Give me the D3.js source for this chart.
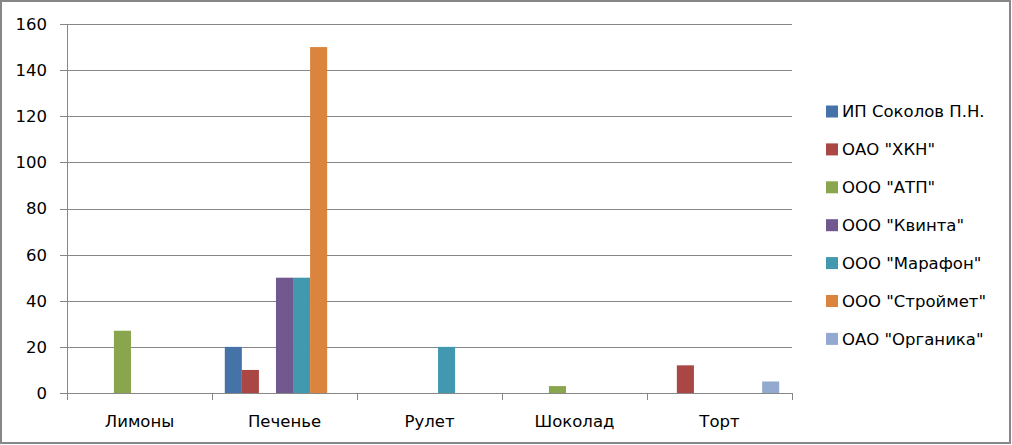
<!DOCTYPE html>
<html>
<head>
<meta charset="utf-8">
<script src="https://cdn.jsdelivr.net/npm/d3@7"></script>
<style>
  body { margin: 0; background: #fff; }
  svg { display: block; }
  text { font-family: "DejaVu Sans", sans-serif; font-size: 16.5px; fill: #000; }
</style>
</head>
<body>
<svg width="1012" height="445"></svg>
<script>
const categories = ["Лимоны", "Печенье", "Рулет", "Шоколад", "Торт"]
const seriesNames = ["ИП Соколов П.Н.", "ОАО \"ХКН\"", "ООО \"АТП\"", "ООО \"Квинта\"", "ООО \"Марафон\"", "ООО \"Строймет\"", "ОАО \"Органика\""]
// one row per series, one value per category (null = no bar)
const sokolov  = [null, 20, null, null, null]
const hkn      = [null, 10, null, null, 12]
const atp      = [27, null, null, 3, null]
const kvinta   = [null, 50, null, null, null]
const marafon  = [null, 50, 20, null, null]
const stroymet = [null, 150, null, null, null]
const organika = [null, null, null, null, 5]
const yTicks = [0, 20, 40, 60, 80, 100, 120, 140, 160]
const colors = ["#4572A7", "#AA4643", "#89A54E", "#71588F", "#4198AF", "#DB843D", "#93A9CF"]

const values = [sokolov, hkn, atp, kvinta, marafon, stroymet, organika]

const svg = d3.select("svg")
const plotLeft = 67, plotRight = 792, plotTop = 24, plotBottom = 393

// chart frame
svg.append("rect")
  .attr("x", 1).attr("y", 1)
  .attr("width", 1009).attr("height", 442)
  .attr("fill", "none")
  .attr("stroke", "#878787")
  .attr("stroke-width", 2)

const x = d3.scaleBand().domain(categories).range([plotLeft, plotRight])
// Excel gap width 150%: 7 bars + 0.75 bar of gap on each side
const xs = d3.scaleBand().domain(d3.range(seriesNames.length))
  .range([0, x.bandwidth()]).paddingInner(0).paddingOuter(0.75)
const y = d3.scaleLinear().domain([0, 160]).range([plotBottom, plotTop])

// gridlines with left tick marks
svg.append("g")
  .selectAll("line")
  .data(yTicks.filter(d => d > 0))
  .join("line")
  .attr("x1", plotLeft - 7).attr("x2", plotRight)
  .attr("y1", d => Math.round(y(d)) + 0.5).attr("y2", d => Math.round(y(d)) + 0.5)
  .attr("stroke", "#878787")

// y labels
svg.append("g")
  .selectAll("text")
  .data(yTicks)
  .join("text")
  .attr("x", 47)
  .attr("y", d => y(d))
  .attr("dy", "0.36em")
  .attr("text-anchor", "end")
  .text(d => d)

// bars
const groups = svg.append("g")
  .selectAll("g")
  .data(values)
  .join("g")
  .attr("fill", (d, i) => colors[i])

groups.selectAll("rect")
  .data((d, i) => d.map((v, j) => ({v: v, s: i, c: categories[j]})).filter(o => o.v !== null))
  .join("rect")
  .attr("x", o => x(o.c) + xs(o.s))
  .attr("width", xs.bandwidth())
  .attr("y", o => y(o.v))
  .attr("height", o => plotBottom - y(o.v))

// x axis line and ticks
const axis = svg.append("g")
axis.append("line")
  .attr("x1", plotLeft - 7).attr("x2", plotRight)
  .attr("y1", plotBottom + 0.5).attr("y2", plotBottom + 0.5)
  .attr("stroke", "#878787")
axis.append("line")
  .attr("x1", plotLeft + 0.5).attr("x2", plotLeft + 0.5)
  .attr("y1", plotTop).attr("y2", plotBottom + 7)
  .attr("stroke", "#878787")
axis.selectAll(".tick")
  .data(categories.concat([null]))
  .join("line")
  .attr("class", "tick")
  .attr("x1", (d, i) => Math.round(plotLeft + i * x.step()) + 0.5)
  .attr("x2", (d, i) => Math.round(plotLeft + i * x.step()) + 0.5)
  .attr("y1", plotBottom).attr("y2", plotBottom + 7)
  .attr("stroke", "#878787")

axis.selectAll(".cat")
  .data(categories)
  .join("text")
  .attr("class", "cat")
  .attr("x", d => x(d) + x.bandwidth() / 2)
  .attr("y", 427)
  .attr("text-anchor", "middle")
  .text(d => d)

// legend
const legend = svg.append("g")
  .selectAll("g")
  .data(seriesNames)
  .join("g")
  .attr("transform", (d, i) => `translate(826, ${111.5 + i * 37.9})`)
legend.append("rect")
  .attr("x", 0).attr("y", -6)
  .attr("width", 12).attr("height", 12)
  .attr("fill", (d, i) => colors[i])
legend.append("text")
  .attr("x", 16)
  .attr("dy", "0.36em")
  .text(d => d)
</script>
</body>
</html>
